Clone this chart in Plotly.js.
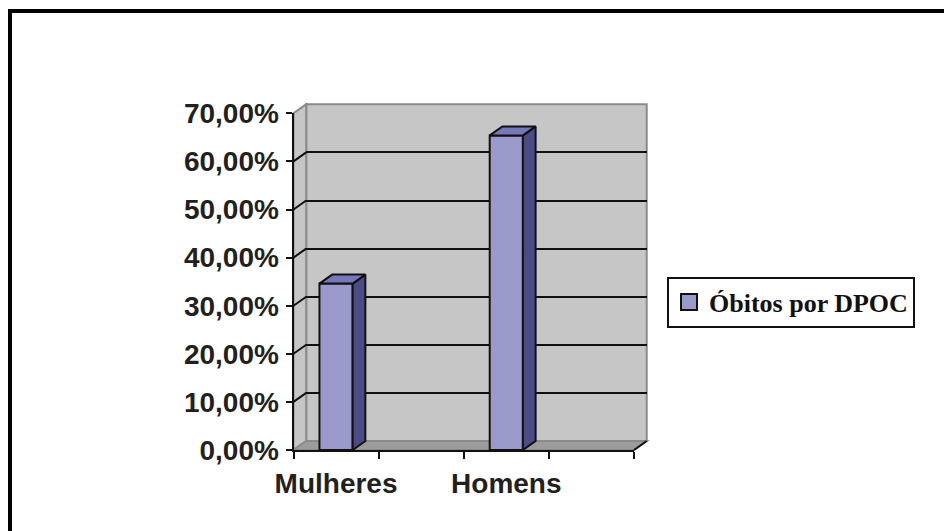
<!DOCTYPE html>
<html>
<head>
<meta charset="utf-8">
<script src="https://cdn.plot.ly/plotly-3.0.1.min.js"></script>
<style>html,body{margin:0;padding:0;background:#fff;}#chart{width:944px;height:531px;}</style>
</head>
<body>
<div id="chart"></div>
<script>
// ---- data ----
const categories = ["Mulheres", "", "Homens", ""];
const values = [34.6, null, 65.4, null];
const yTickVals = [0, 10, 20, 30, 40, 50, 60, 70];
const yTickText = ["0,00%", "10,00%", "20,00%", "30,00%", "40,00%", "50,00%", "60,00%", "70,00%"];
const seriesName = "Óbitos por DPOC";

// ---- geometry (pixels) ----
const W = 944, H = 531;
const FX0 = 293.5, FX1 = 634, FY0 = 450, FYTOP = 113.3;
const DX = 12.7, DY = 9;
const yMax = yTickVals[yTickVals.length - 1];
const nCat = categories.length;
const barWidth = 0.39;

const px = p => p / W;
const py = p => 1 - p / H;
const yF = v => FY0 - v * (FY0 - FYTOP) / yMax;

const dxData = DX / ((FX1 - FX0) / nCat);
const dyData = DY / ((FY0 - FYTOP) / yMax);

const idx = categories.map((c, i) => i);
const bounds = [];
for (let i = 0; i <= nCat; i++) bounds.push(i - 0.5);

const colFront = '#9999cc', colTop = '#7676bb', colSide = '#4b4b86';
const labelFont = {family: 'Liberation Sans, Arial, sans-serif', size: 28, color: '#231f20', weight: 'bold'};

const traces = [];
// anchor traces so every subplot is built
traces.push({type: 'scatter', mode: 'markers', x: [null], y: [null], xaxis: 'x', yaxis: 'y', showlegend: false, hoverinfo: 'skip'});
traces.push({type: 'scatter', mode: 'markers', x: [null], y: [null], xaxis: 'x3', yaxis: 'y2', showlegend: false, hoverinfo: 'skip'});

traces.push({
  type: 'bar', x: idx, y: values, width: barWidth,
  xaxis: 'x2', yaxis: 'y2',
  marker: {color: colFront, line: {color: '#111', width: 2}},
  showlegend: false, hoverinfo: 'skip'
});
values.forEach((v, i) => {
  if (v === null) return;
  const w = barWidth / 2;
  traces.push({
    type: 'scatter', mode: 'lines', xaxis: 'x2', yaxis: 'y2',
    x: [i + w, i + w + dxData, i + w + dxData, i + w, i + w],
    y: [0, dyData, v + dyData, v, 0],
    fill: 'toself', fillcolor: colSide, line: {color: '#111', width: 2},
    showlegend: false, hoverinfo: 'skip'
  });
  traces.push({
    type: 'scatter', mode: 'lines', xaxis: 'x2', yaxis: 'y2',
    x: [i - w, i - w + dxData, i + w + dxData, i + w, i - w],
    y: [v, v + dyData, v + dyData, v, v],
    fill: 'toself', fillcolor: colTop, line: {color: '#111', width: 2},
    showlegend: false, hoverinfo: 'skip'
  });
});
// legend entry
traces.push({
  type: 'scatter', mode: 'markers', xaxis: 'x2', yaxis: 'y2',
  x: [null], y: [null], name: seriesName,
  marker: {symbol: 'square', size: 16, color: colFront, line: {color: '#111', width: 2}},
  showlegend: true, hoverinfo: 'skip'
});

const shapes = [];
// back wall
shapes.push({type: 'rect', xref: 'paper', yref: 'paper',
  x0: px(FX0+DX), x1: px(FX1+DX), y0: py(FY0-DY), y1: py(FYTOP-DY),
  fillcolor: '#c6c6c6', line: {color: '#8a8a8a', width: 2}, layer: 'below'});
// side wall
shapes.push({type: 'path', xref: 'paper', yref: 'paper', layer: 'below',
  path: `M${px(FX0)},${py(yF(0))} L${px(FX0)},${py(yF(yMax))} L${px(FX0+DX)},${py(yF(yMax)-DY)} L${px(FX0+DX)},${py(yF(0)-DY)} Z`,
  fillcolor: '#c6c6c6', line: {color: '#8a8a8a', width: 2}});
// floor
shapes.push({type: 'path', xref: 'paper', yref: 'paper', layer: 'below',
  path: `M${px(FX0)},${py(FY0)} L${px(FX1)},${py(FY0)} L${px(FX1+DX)},${py(FY0-DY)} L${px(FX0+DX)},${py(FY0-DY)} Z`,
  fillcolor: '#9c9c9c', line: {color: '#8a8a8a', width: 2}});
// floor right edge
shapes.push({type: 'line', xref: 'paper', yref: 'paper', layer: 'above',
  x0: px(FX1), y0: py(FY0), x1: px(FX1+DX), y1: py(FY0-DY), line: {color: '#111', width: 2}});
// side-wall gridline diagonals
yTickVals.forEach(v => {
  if (v === 0 || v === yMax) return;
  shapes.push({type: 'line', xref: 'paper', yref: 'paper', layer: 'above',
    x0: px(FX0), y0: py(yF(v)), x1: px(FX0+DX), y1: py(yF(v)-DY), line: {color: '#111', width: 2}});
});
// outer frame
shapes.push({type: 'rect', xref: 'paper', yref: 'paper', layer: 'above',
  x0: px(10), y0: -0.2, x1: 1.2, y1: py(11), line: {color: '#000', width: 4}, fillcolor: 'rgba(0,0,0,0)'});

const layout = {
  width: W, height: H,
  margin: {l: 0, r: 0, t: 0, b: 0, autoexpand: false},
  paper_bgcolor: '#fff', plot_bgcolor: 'rgba(0,0,0,0)',
  showlegend: true,
  // back plane
  xaxis: {domain: [px(FX0+DX), px(FX1+DX)], range: [-0.5, nCat - 0.5], anchor: 'y',
    showgrid: false, showticklabels: false, showline: false, ticks: '', zeroline: false, fixedrange: true},
  yaxis: {domain: [py(FY0-DY), py(FYTOP-DY)], range: [0, yMax], anchor: 'x',
    tickmode: 'array', tickvals: yTickVals.filter(v => v !== 0 && v !== yMax),
    showgrid: true, gridcolor: '#111', gridwidth: 2,
    showticklabels: false, showline: false, ticks: '', zeroline: false, fixedrange: true},
  // front plane
  xaxis2: {domain: [px(FX0), px(FX1)], range: [-0.5, nCat - 0.5], anchor: 'y2',
    tickmode: 'array', tickvals: bounds, ticktext: bounds.map(() => ''),
    ticks: 'outside', ticklen: 7, tickwidth: 2, tickcolor: '#111',
    showline: true, linecolor: '#111', linewidth: 2, showgrid: false, zeroline: false, fixedrange: true},
  xaxis3: {overlaying: 'x2', anchor: 'y2', side: 'bottom', range: [-0.5, nCat - 0.5],
    tickmode: 'array', tickvals: idx, ticktext: categories,
    ticks: '', showline: false, showgrid: false, zeroline: false,
    ticklabelstandoff: 14, tickfont: labelFont, fixedrange: true},
  yaxis2: {domain: [py(FY0), py(FYTOP)], range: [0, yMax], anchor: 'x2',
    tickmode: 'array', tickvals: yTickVals, ticktext: yTickText,
    ticks: 'outside', ticklen: 6, tickwidth: 2, tickcolor: '#111',
    ticklabelstandoff: 1, tickfont: labelFont,
    showline: true, linecolor: '#111', linewidth: 2, showgrid: false, zeroline: false, fixedrange: true},
  legend: {x: px(667), y: py(276.7), xanchor: 'left', yanchor: 'top',
    bgcolor: '#fff', bordercolor: '#111', borderwidth: 2,
    font: {family: 'Liberation Serif, Times New Roman, serif', size: 26, color: '#111', weight: 'bold'}},
  shapes: shapes
};

Plotly.newPlot('chart', traces, layout, {displayModeBar: false, staticPlot: true});
</script>
</body>
</html>
